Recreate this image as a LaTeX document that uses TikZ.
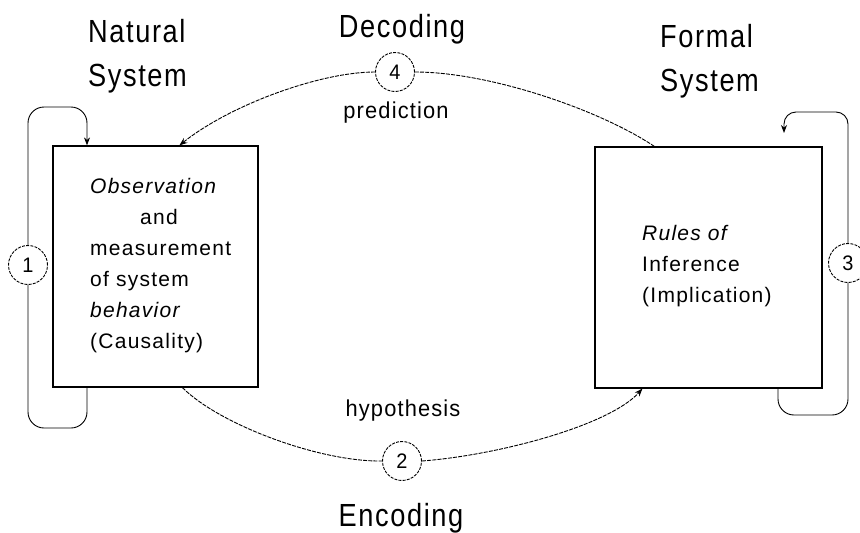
\documentclass[tikz,border=0pt]{standalone}
\usepackage{fontspec}
\setmainfont{Liberation Sans}
\newfontfamily\titlefont[FakeStretch=0.85,LetterSpace=5]{Liberation Sans}
\newfontfamily\labelfont[FakeStretch=0.95,LetterSpace=5]{Liberation Sans}
\newfontfamily\boxfont[LetterSpace=6]{Liberation Sans}
\usetikzlibrary{arrows.meta}

\begin{document}
\begin{tikzpicture}[x=1pt,y=-1pt,
  title/.style={font=\titlefont\fontsize{32}{44}\selectfont, inner sep=0pt},
  arclabel/.style={font=\labelfont\fontsize{23}{26}\selectfont, anchor=base, inner sep=0pt},
  sysbox/.style={draw, line width=1.2pt, inner sep=0pt},
  boxtext/.style={font=\boxfont\fontsize{21}{31}\selectfont, align=left, inner sep=0pt, anchor=north west},
  num/.style={circle, draw, dash pattern=on 3pt off 1.2pt, line width=0.9pt,
    minimum size=39pt, inner sep=0pt, font=\labelfont\fontsize{21}{21}\selectfont},
  loopline/.style={line width=0.9pt, rounded corners=16pt},
  arcline/.style={line width=0.9pt, dash pattern=on 4pt off 1.2pt},
  tip/.style={-{Stealth[length=8pt,width=6pt]}}
]
% page
\fill[white] (0,0) rectangle (860,533);
\useasboundingbox (0,0) rectangle (860,533);

% headings
\node[title, align=left, anchor=north west] (natural) at (88,19) {Natural\\System};
\node[title, align=left, anchor=north west] (formal) at (660,24) {Formal\\System};
\node[title, anchor=base] (decoding) at (402,37) {Decoding};
\node[title, anchor=base] (encoding) at (401,526) {Encoding};
\node[arclabel] (prediction) at (396,118) {prediction};
\node[arclabel] (hypothesis) at (403,416) {hypothesis};

% the two systems
\node[sysbox, minimum width=205pt, minimum height=241pt] (obs) at (155.5,266.5) {};
\node[boxtext] (obstext) at (90,178)
  {{\itshape Observation}\\\hspace*{50pt}and\\measurement\\of system\\{\itshape behavior}\\(Causality)};
\node[sysbox, minimum width=227pt, minimum height=241pt] (rules) at (708.5,267.5) {};
\node[boxtext] (rulestext) at (642,225)
  {{\itshape Rules of}\\Inference\\(Implication)};

% numbered stations
\node[num] (c1) at (28,265) {1};
\node[num] (c2) at (402,461) {2};
\node[num] (c3) at (848,263) {3};
\node[num] (c4) at (395,72) {4};

% loop 1 round the natural system
\coordinate (l1a) at (87,428);
\coordinate (l1b) at (28,428);
\coordinate (l1c) at (28,107);
\coordinate (l1d) at (87,107);
\draw[loopline] (obs.south west -| l1a) -- (l1a) -- (l1b) -- (c1.south);
\draw[loopline, tip] (c1.north) -- (l1c) -- (l1d) -- (obs.north west -| l1d);

% loop 3 round the formal system
\coordinate (l3a) at (778,415);
\coordinate (l3b) at (848,415);
\coordinate (l3c) at (848,112);
\coordinate (l3d) at (784,112);
\coordinate (l3e) at (784,133);
\draw[loopline] (rules.south west -| l3a) -- (l3a) -- (l3b) -- (c3.south);
\draw[loopline, rounded corners=12pt, tip] (c3.north) -- (l3c) -- (l3d) -- (l3e);

% decoding: formal -> natural
\draw[arcline] ([xshift=60pt]rules.north west) .. controls (600,110) and (490,72) .. (c4.east);
\draw[arcline, tip] (c4.west) .. controls (320,72) and (230,105) .. ([xshift=127pt]obs.north west);

% encoding: natural -> formal
\draw[arcline] ([xshift=130pt]obs.south west) .. controls (220,425) and (320,462) .. (c2.west);
\draw[arcline, tip] (c2.east) .. controls (500,455) and (610,425) .. ([xshift=48pt]rules.south west);
\end{tikzpicture}
\end{document}
